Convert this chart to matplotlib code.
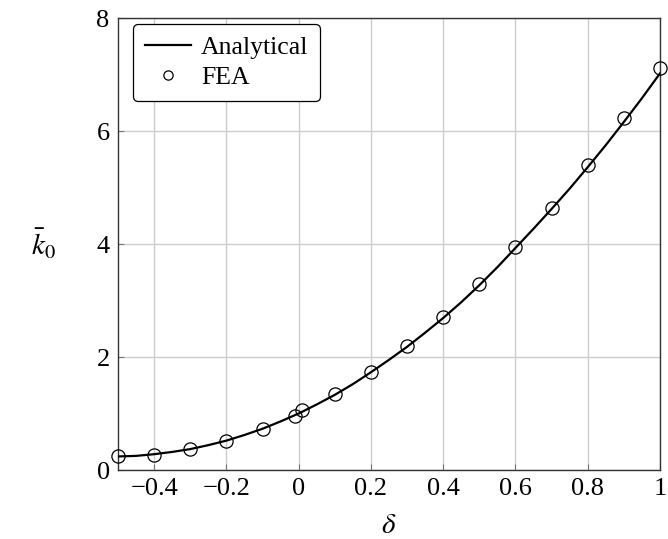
import numpy as np
import matplotlib
matplotlib.use('Agg')
import matplotlib.pyplot as plt

plt.rcParams['font.family'] = ['Liberation Serif', 'DejaVu Serif']
plt.rcParams['mathtext.fontset'] = 'stix'

# analytical curve
delta_an = [-0.5, -0.45, -0.4, -0.35, -0.3, -0.25, -0.2, -0.15, -0.1, -0.05, 0.0,
            0.05, 0.1, 0.15, 0.2, 0.25, 0.3, 0.35, 0.4, 0.45, 0.5, 0.55, 0.6,
            0.65, 0.7, 0.75, 0.8, 0.85, 0.9, 0.95, 1.0]
k_an = [0.24, 0.25, 0.28, 0.32, 0.37, 0.44, 0.52, 0.62, 0.73, 0.86, 1.0,
        1.16, 1.33, 1.52, 1.73, 1.95, 2.18, 2.43, 2.69, 2.97, 3.27, 3.59, 3.93,
        4.27, 4.62, 4.98, 5.36, 5.75, 6.16, 6.58, 7.02]

# FEA points
delta_fea = [-0.5, -0.4, -0.3, -0.2, -0.1, -0.01, 0.01, 0.1, 0.2, 0.3, 0.4,
             0.5, 0.6, 0.7, 0.8, 0.9, 1.0]
k_fea = [0.25, 0.27, 0.37, 0.52, 0.73, 0.96, 1.06, 1.35, 1.74, 2.2, 2.71,
         3.29, 3.95, 4.64, 5.4, 6.23, 7.12]

xticks = [-0.4, -0.2, 0, 0.2, 0.4, 0.6, 0.8, 1]
xticklabels = ['\u22120.4', '\u22120.2', '0', '0.2', '0.4', '0.6', '0.8', '1']
yticks = [0, 2, 4, 6, 8]

fig = plt.figure(figsize=(6.68, 5.39), dpi=100)
ax = fig.add_axes([0.1766, 0.128, 0.988 - 0.1766, 0.9666 - 0.128])

ax.plot(delta_an, k_an, color='black', lw=1.6, label='Analytical', zorder=3)
ax.plot(delta_fea, k_fea, 'o', mfc='none', mec='black', ms=9.5, mew=0.9,
        label='FEA', zorder=4, clip_on=False)

ax.set_xlim(-0.5, 1)
ax.set_ylim(0, 8)
ax.set_xticks(xticks)
ax.set_xticklabels(xticklabels)
ax.set_yticks(yticks)
ax.grid(True, color='#cccccc', lw=1)
ax.set_axisbelow(True)
ax.tick_params(direction='in', labelsize=19, length=4, color='#777777', pad=6)
for s in ax.spines.values():
    s.set_color('#333333')
    s.set_linewidth(1)

ax.set_xlabel(r'$\delta$', fontsize=21, labelpad=9)
ax.set_ylabel(r'$\bar{k}_0$', fontsize=21, rotation=0, labelpad=38, va='center')

leg = ax.legend(loc='upper left', bbox_to_anchor=(15 / 542, 1 - 6 / 452),
                borderaxespad=0, fontsize=18.5, frameon=True, fancybox=True,
                edgecolor='black', framealpha=1, borderpad=0.45,
                handlelength=1.8, handletextpad=0.4, labelspacing=0.3,
                markerscale=0.7)
leg.get_frame().set_linewidth(0.9)

fig.savefig('out.png', dpi=100)
